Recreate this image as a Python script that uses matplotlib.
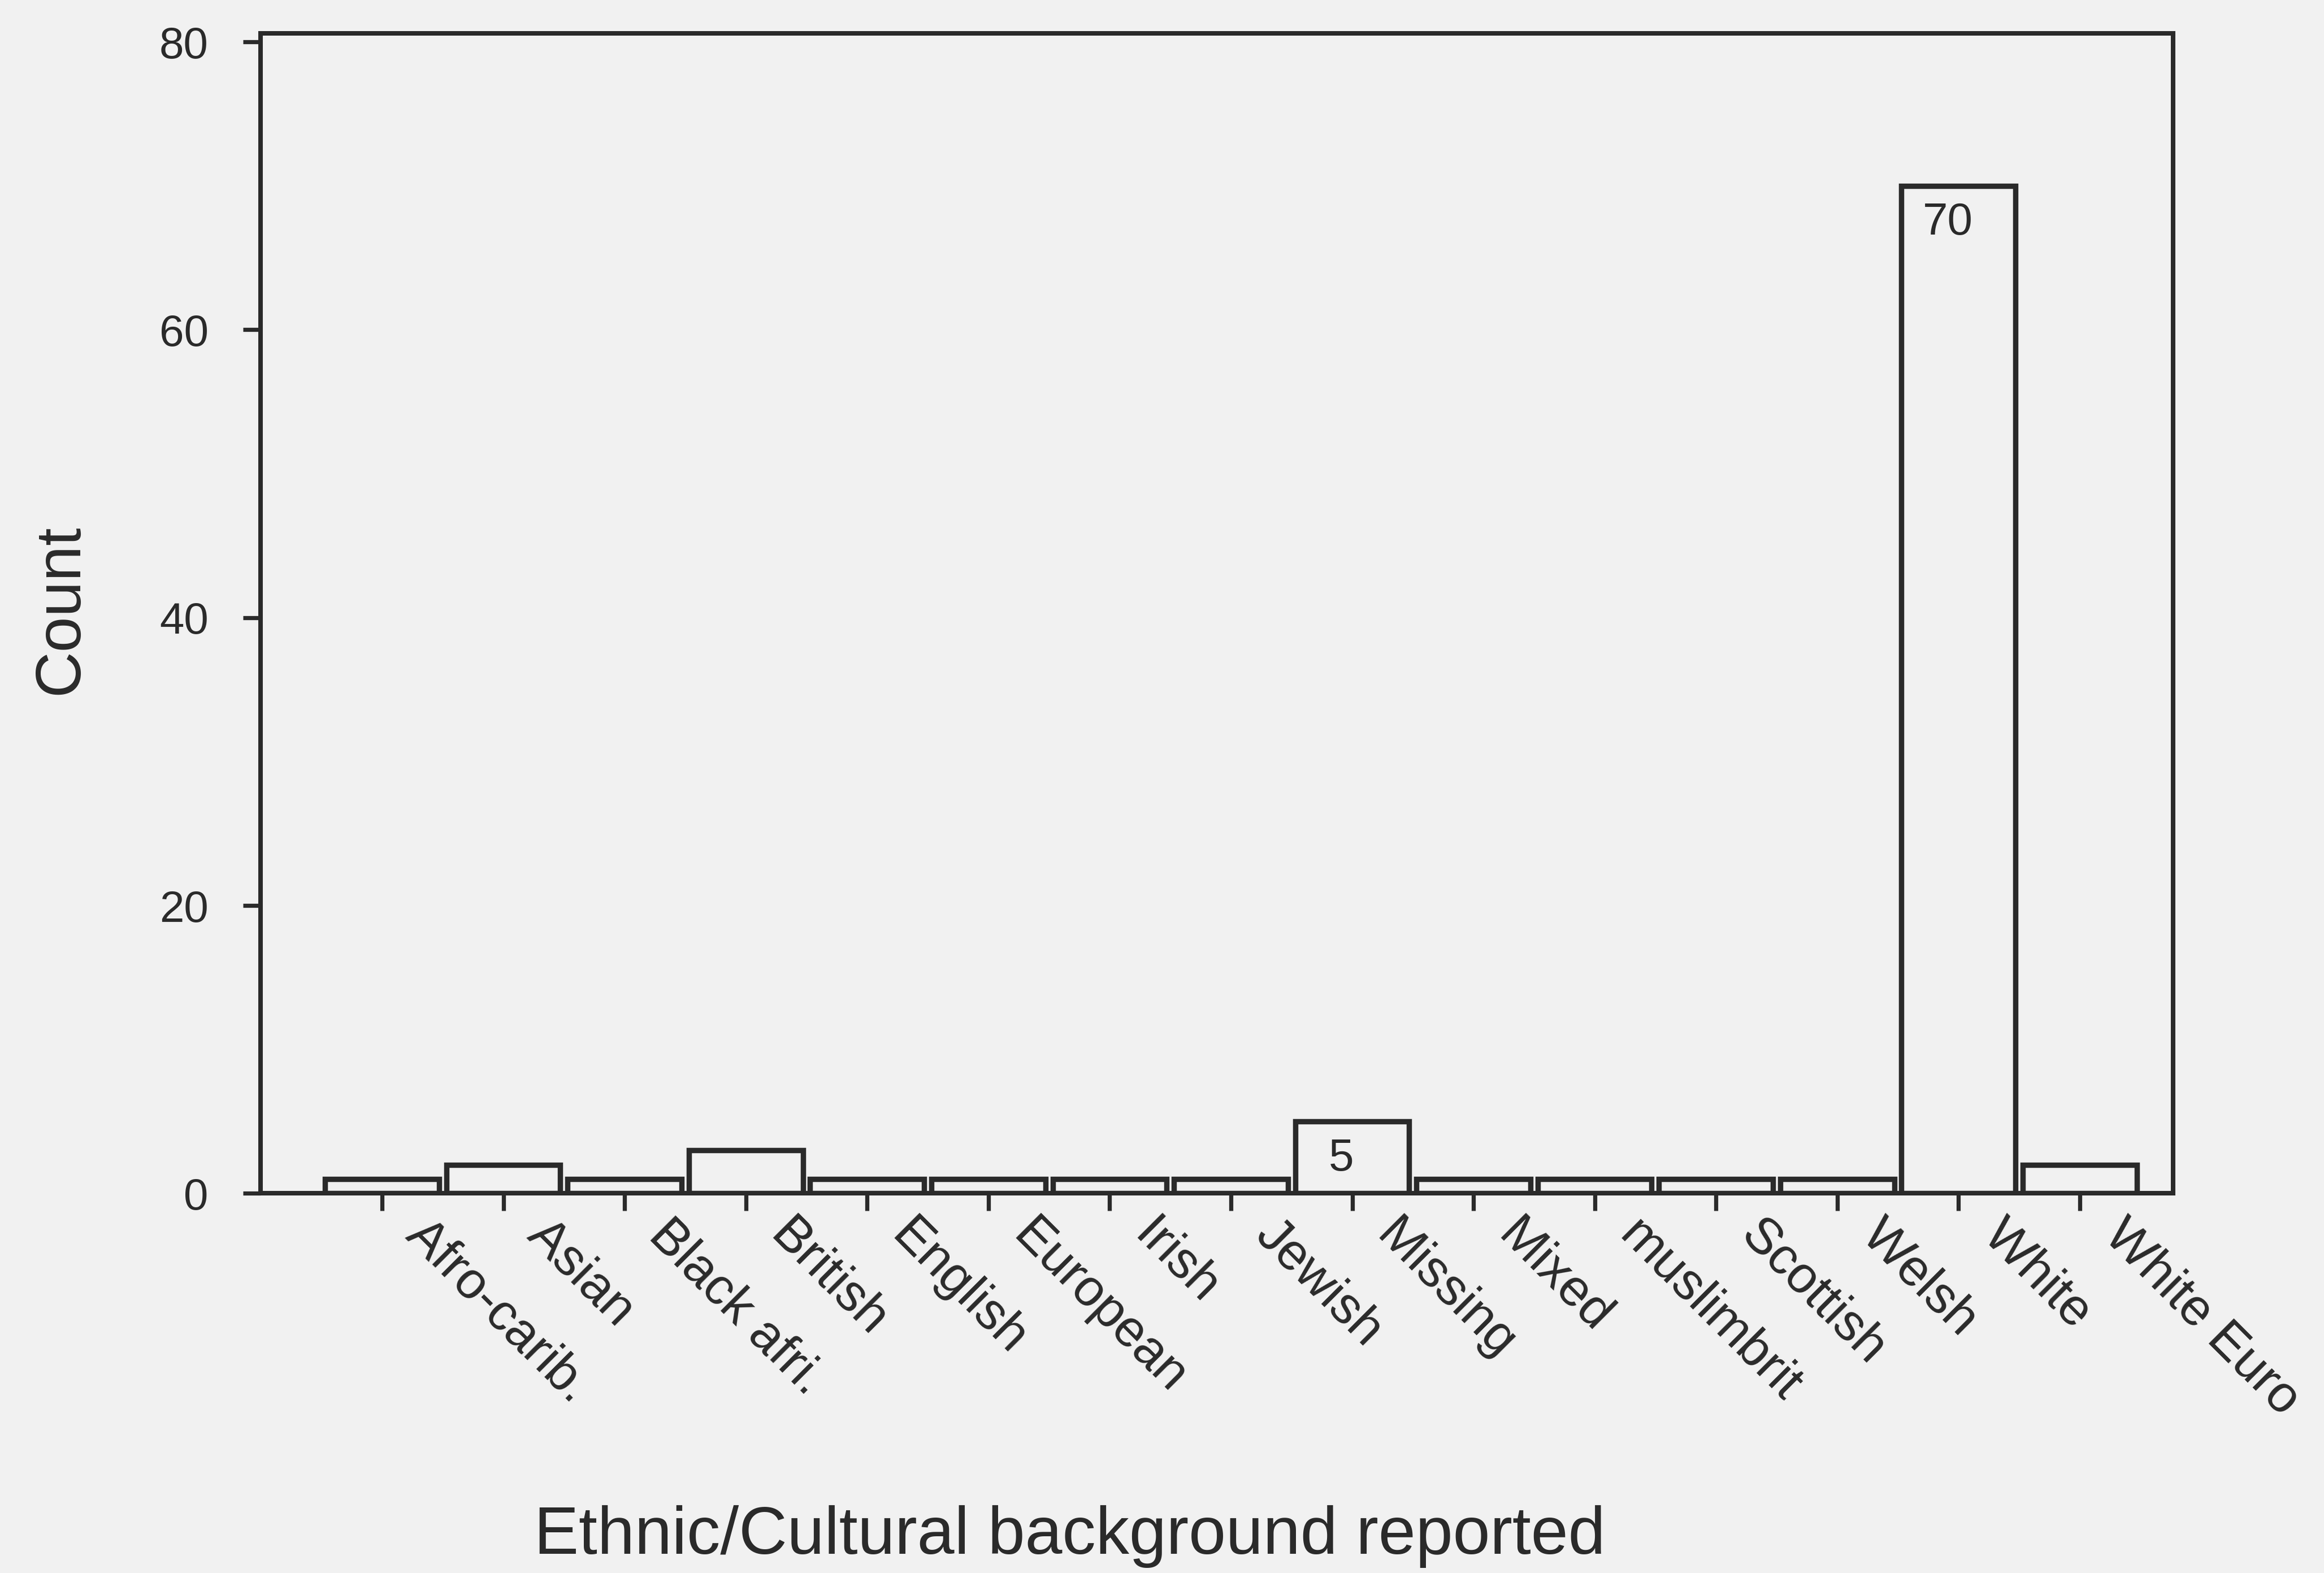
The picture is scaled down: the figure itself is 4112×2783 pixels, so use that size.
import matplotlib
matplotlib.use('Agg')
import matplotlib.pyplot as plt
import matplotlib.transforms as mtransforms
import numpy as np

# Ethnic / cultural background counts
categories = ['Afro-carib.', 'Asian', 'Black afri.', 'British', 'English', 'European',
              'Irish', 'Jewish', 'Missing', 'Mixed', 'muslimbrit', 'Scottish',
              'Welsh', 'White', 'White Euro']
counts = [1, 2, 1, 3, 1, 1, 1, 1, 5, 1, 1, 1, 1, 70, 2]
labelled = ['Missing', 'White']
y_ticks = [0, 20, 40, 60, 80]

plt.rcParams['font.family'] = ['Liberation Sans', 'DejaVu Sans']
bg = '#f1f1f1'
ink = '#2a2a2a'

fig = plt.figure(figsize=(15.68, 10.61), dpi=262.3, facecolor=bg)
ax = fig.add_axes([0.1122, 0.2413, 0.8227, 0.7376])
ax.set_facecolor(bg)

x = np.arange(len(categories))
ax.bar(x, counts, width=0.94, color=bg, edgecolor=ink, linewidth=2.6, zorder=2)

# numbers written inside the two tallest bars, a little left of centre
for name in labelled:
    i = categories.index(name)
    ax.text(i - 0.09, counts[i] - 2.6, str(counts[i]), ha='center', va='center',
            fontsize=22, color=ink, zorder=3)

ax.set_xlim(-1.0, 14.77)
ax.set_ylim(0, 80.6)
ax.set_yticks(y_ticks)
ax.set_yticklabels([str(t) for t in y_ticks], fontsize=21.5, color=ink)
ax.set_xticks(x)
ax.set_xticklabels(categories, fontsize=25, color=ink, rotation=-45,
                   ha='left', va='top', rotation_mode='anchor')
ax.tick_params(axis='both', direction='out', length=8.5, width=2.0, color=ink)
ax.tick_params(axis='y', pad=17)
ax.tick_params(axis='x', pad=0)

shift = mtransforms.ScaledTranslation(0.33, 0.0, fig.dpi_scale_trans)
for lab in ax.get_xticklabels():
    lab.set_transform(lab.get_transform() + shift)

for s in ax.spines.values():
    s.set_color(ink)
    s.set_linewidth(2.2)

fig.text(0.0334, 0.6126, 'Count', rotation=90, rotation_mode='anchor',
         ha='center', va='baseline', fontsize=31, color=ink)
fig.text(0.4601, 0.0123, 'Ethnic/Cultural background reported', ha='center',
         va='baseline', fontsize=32.5, color=ink)

fig.savefig('out.png', dpi=262.3, facecolor=bg)
